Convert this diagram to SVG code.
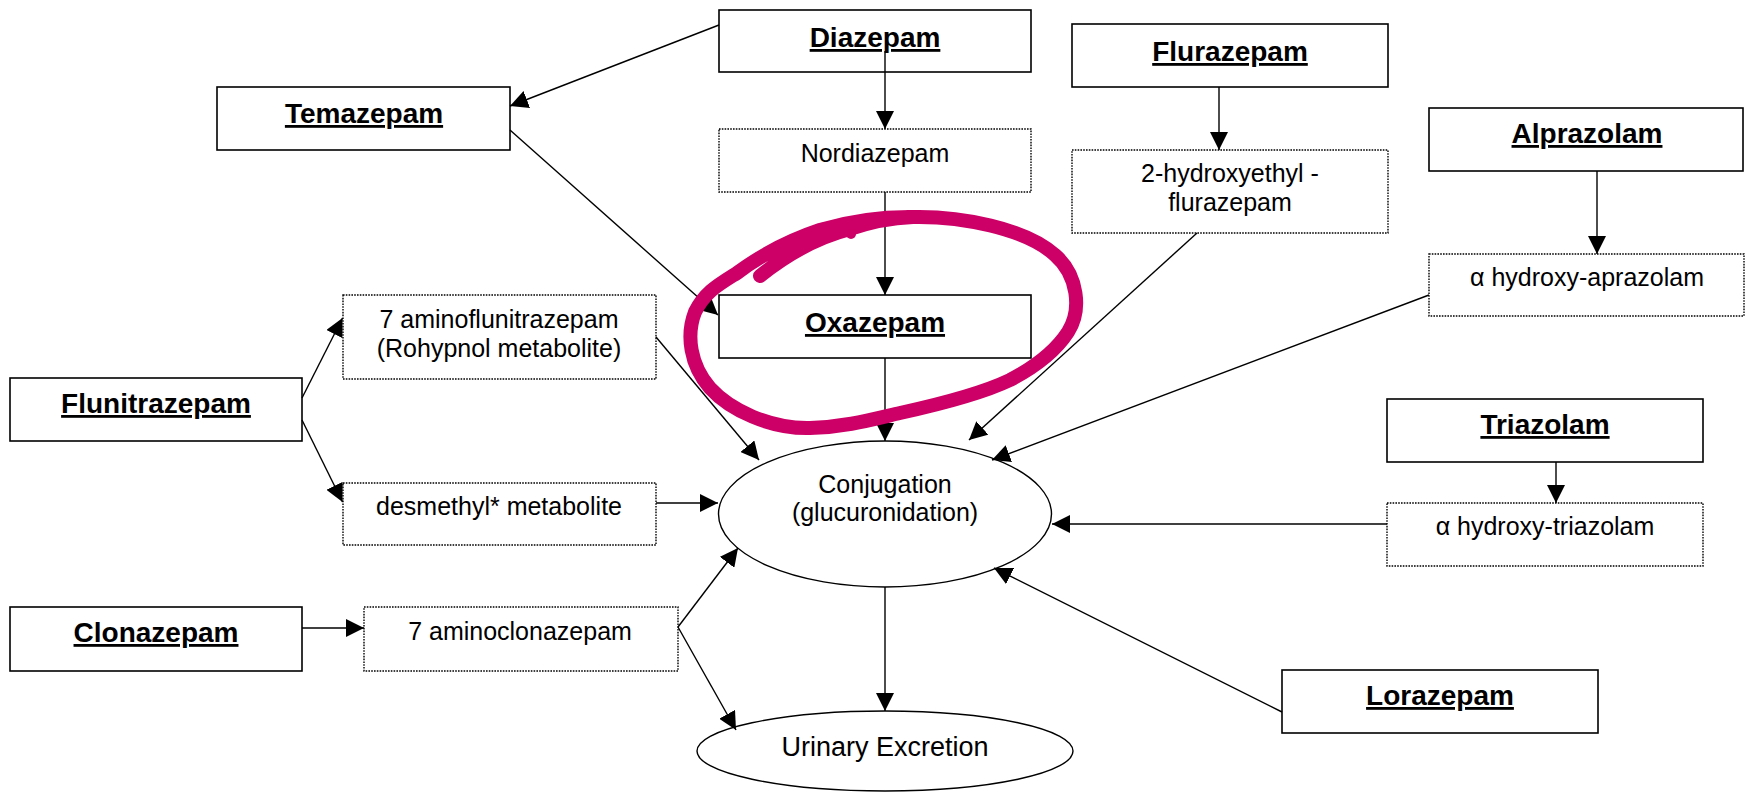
<svg xmlns="http://www.w3.org/2000/svg" width="1746" height="794" viewBox="0 0 1746 794">
<style>
  .box { fill: #fff; stroke: #000; stroke-width: 1.6; }
  .dbox { fill: #fff; stroke: #000; stroke-width: 1.4; stroke-dasharray: 1.6 1.2; }
  .ell { fill: #fff; stroke: #000; stroke-width: 1.4; }
  .t { font-family: "Liberation Sans", Arial, sans-serif; font-size: 25px; fill: #000; text-anchor: middle; }
  .b { font-family: "Liberation Sans", Arial, sans-serif; font-size: 28px; font-weight: bold; fill: #000; text-anchor: middle; text-decoration: underline; }
  .c { fill: none; stroke: #000; stroke-width: 1.4; marker-end: url(#ah); }
  .ink { fill: none; stroke: #CC0066; stroke-width: 14; stroke-linecap: round; stroke-linejoin: round; }
</style>
<defs>
  <marker id="ah" viewBox="0 0 18 18" refX="18" refY="9" markerWidth="18" markerHeight="18" markerUnits="userSpaceOnUse" orient="auto">
    <path d="M0,0 L18,9 L0,18 Z" fill="#000"/>
  </marker>
</defs>
<rect width="1746" height="794" fill="#fff"/>

<g id="diazepam"><rect class="box" x="719" y="10" width="312" height="62"/><text class="b" x="875" y="47">Diazepam</text></g>
<g id="temazepam"><rect class="box" x="217" y="87" width="293" height="63"/><text class="b" x="364" y="123">Temazepam</text></g>
<g id="nordiazepam"><rect class="dbox" x="719" y="129" width="312" height="63"/><text class="t" x="875" y="162">Nordiazepam</text></g>
<g id="oxazepam"><rect class="box" x="719" y="295" width="312" height="63"/><text class="b" x="875" y="332">Oxazepam</text></g>
<g id="flurazepam"><rect class="box" x="1072" y="24" width="316" height="63"/><text class="b" x="1230" y="61">Flurazepam</text></g>
<g id="hydroxyethyl"><rect class="dbox" x="1072" y="150" width="316" height="83"/><text class="t" x="1230" y="182">2-hydroxyethyl -</text><text class="t" x="1230" y="211">flurazepam</text></g>
<g id="alprazolam"><rect class="box" x="1429" y="108" width="314" height="63"/><text class="b" x="1587" y="143">Alprazolam</text></g>
<g id="hydroxyaprazolam"><rect class="dbox" x="1429" y="254" width="315" height="62"/><text class="t" x="1587" y="286">α hydroxy-aprazolam</text></g>
<g id="flunitrazepam"><rect class="box" x="10" y="378" width="292" height="63"/><text class="b" x="156" y="413">Flunitrazepam</text></g>
<g id="aminoflunitrazepam"><rect class="dbox" x="343" y="295" width="313" height="84"/><text class="t" x="499" y="328">7 aminoflunitrazepam</text><text class="t" x="499" y="357">(Rohypnol metabolite)</text></g>
<g id="desmethyl"><rect class="dbox" x="343" y="483" width="313" height="62"/><text class="t" x="499" y="515">desmethyl* metabolite</text></g>
<g id="clonazepam"><rect class="box" x="10" y="607" width="292" height="64"/><text class="b" x="156" y="642">Clonazepam</text></g>
<g id="aminoclonazepam"><rect class="dbox" x="364" y="607" width="314" height="64"/><text class="t" x="520" y="640">7 aminoclonazepam</text></g>
<g id="triazolam"><rect class="box" x="1387" y="399" width="316" height="63"/><text class="b" x="1545" y="434">Triazolam</text></g>
<g id="hydroxytriazolam"><rect class="dbox" x="1387" y="503" width="316" height="63"/><text class="t" x="1545" y="535">α hydroxy-triazolam</text></g>
<g id="lorazepam"><rect class="box" x="1282" y="670" width="316" height="63"/><text class="b" x="1440" y="705">Lorazepam</text></g>
<g id="conjugation"><ellipse class="ell" cx="885" cy="514" rx="166.5" ry="73"/><text class="t" x="885" y="493">Conjugation</text><text class="t" x="885" y="521">(glucuronidation)</text></g>
<g id="urinary"><ellipse class="ell" cx="885" cy="751" rx="188" ry="40"/><text class="t" x="885" y="756" style="font-size:27px">Urinary Excretion</text></g>

<g id="connectors">
  <line class="c" x1="719" y1="25" x2="510" y2="106"/>
  <line class="c" x1="885" y1="51" x2="885" y2="129"/>
  <line class="c" x1="885" y1="192" x2="885" y2="295"/>
  <line class="c" x1="510" y1="130" x2="718" y2="315"/>
  <line class="c" x1="885" y1="358" x2="885" y2="441"/>
  <line class="c" x1="1219" y1="87" x2="1219" y2="150"/>
  <line class="c" x1="1197" y1="233" x2="969" y2="440"/>
  <line class="c" x1="1597" y1="171" x2="1597" y2="254"/>
  <line class="c" x1="1429" y1="295" x2="992" y2="460"/>
  <line class="c" x1="302" y1="398" x2="342.5" y2="318"/>
  <line class="c" x1="302" y1="420" x2="342.5" y2="502"/>
  <line class="c" x1="656" y1="337" x2="759" y2="460"/>
  <line class="c" x1="656" y1="503" x2="718" y2="503"/>
  <line class="c" x1="302" y1="628" x2="364" y2="628"/>
  <line class="c" x1="678" y1="627" x2="738" y2="548"/>
  <line class="c" x1="678" y1="627" x2="736" y2="730"/>
  <line class="c" x1="1556" y1="462" x2="1556" y2="503"/>
  <line class="c" x1="1387" y1="524" x2="1052" y2="524"/>
  <line class="c" x1="1282" y1="712" x2="994" y2="568"/>
  <line class="c" x1="885" y1="587" x2="885" y2="711"/>
</g>

<g id="annotation">
  <path class="ink" d="M 760 276 C 785 256, 815 238, 850 229 C 870 222, 890 218, 913 217 C 960 216, 1025 228, 1055 255 C 1078 275, 1082 310, 1068 332 C 1055 352, 1035 367, 1010 380 C 985 392, 950 402, 900 413 C 870 420, 845 427, 810 428 C 770 429, 730 410, 710 388 C 690 365, 686 335, 695 312 C 705 292, 718 285, 737 273 C 760 256, 790 240, 820 230 C 850 221, 880 217, 910 217"/>
  <circle cx="851" cy="234" r="5" fill="#CC0066"/>
</g>
</svg>
